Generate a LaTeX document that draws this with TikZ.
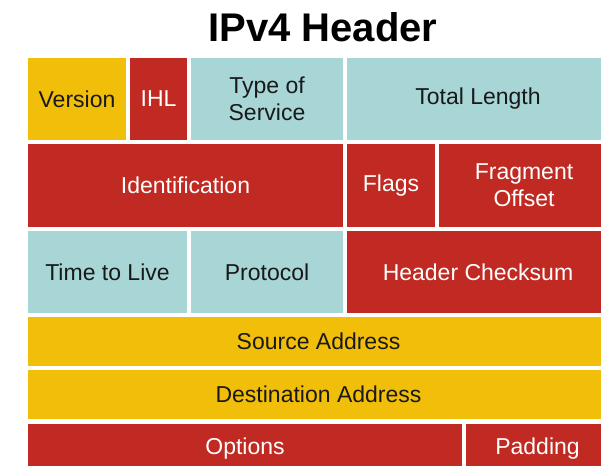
\documentclass[tikz,border=0pt]{standalone}
\usepackage{fontspec}
\setmainfont{Liberation Sans}
\definecolor{hdryellow}{RGB}{241,190,10}
\definecolor{hdrred}{RGB}{192,42,34}
\definecolor{hdrteal}{RGB}{168,213,214}
\begin{document}
\begin{tikzpicture}[x=1pt, y=-1pt,
  field/.style={inner sep=0pt, align=center, font=\fontsize{23}{27}\selectfont},
  yfield/.style={field, fill=hdryellow, text=black!90},
  rfield/.style={field, fill=hdrred, text=white},
  tfield/.style={field, fill=hdrteal, text=black!90},
  dims/.style 2 args={minimum width=#1, minimum height=#2}]
\useasboundingbox (0,0) rectangle (601,465);
\clip (0,0) rectangle (601,465);
%
\path (323,42) node[anchor=base, font=\fontsize{40}{44}\selectfont\bfseries] (title) {IPv4 Header};
%
\path (77,99)    node[yfield, dims={98}{82}]  (version) {Version};
\path (158.5,99) node[rfield, dims={57}{82}]  (ihl)     {IHL};
\path (267,99)   node[tfield, dims={152}{82}] (tos)     {Type of\\Service};
\path (478,99)   node[tfield, dims={262}{82}] (totlen)  {Total Length};
%
\path (185.5,185.5) node[rfield, dims={315}{83}] (ident) {Identification};
\path (391,185.5)   node[rfield, dims={88}{83}]  (flags) {Flags};
\path (524,185.5)   node[rfield, dims={170}{83}] (frag)  {Fragment\\Offset};
%
\path (107.5,272) node[tfield, dims={159}{82}] (ttl)      {Time to Live};
\path (267,272)   node[tfield, dims={152}{82}] (proto)    {Protocol};
\path (478,272)   node[rfield, dims={262}{82}] (checksum) {Header Checksum};
%
\path (318.5,341.5) node[yfield, dims={581}{49}] (src) {Source Address};
\path (318.5,394.5) node[yfield, dims={581}{49}] (dst) {Destination Address};
%
\path (245,448.5)   node[rfield, dims={434}{49}] (opts) {Options};
\path (537.5,448.5) node[rfield, dims={143}{49}] (pad)  {Padding};
\end{tikzpicture}
\end{document}
